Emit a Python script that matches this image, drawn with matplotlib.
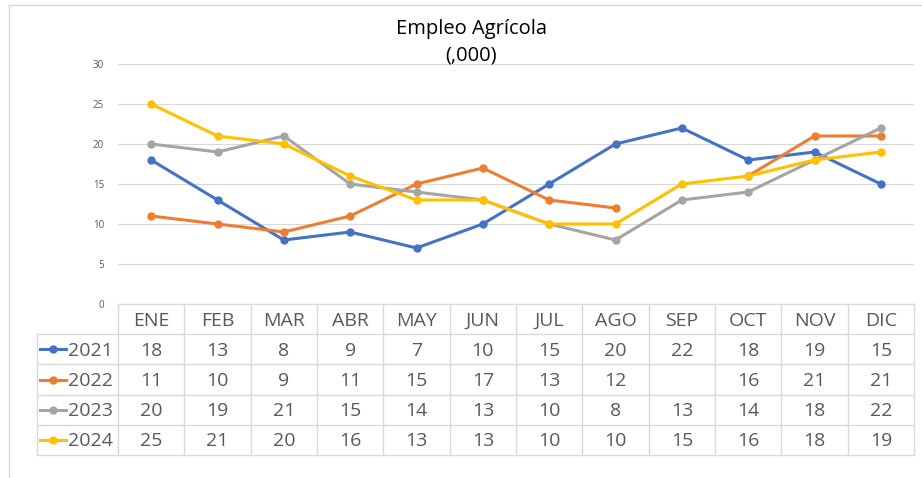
import numpy as np
import matplotlib
matplotlib.use("Agg")
import matplotlib.pyplot as plt
from matplotlib.lines import Line2D

months = ["ENE", "FEB", "MAR", "ABR", "MAY", "JUN", "JUL", "AGO", "SEP", "OCT", "NOV", "DIC"]
years = ["2021", "2022", "2023", "2024"]
v2021 = [18, 13, 8, 9, 7, 10, 15, 20, 22, 18, 19, 15]
v2022 = [11, 10, 9, 11, 15, 17, 13, 12, None, 16, 21, 21]
v2023 = [20, 19, 21, 15, 14, 13, 10, 8, 13, 14, 18, 22]
v2024 = [25, 21, 20, 16, 13, 13, 10, 10, 15, 16, 18, 19]
series = [v2021, v2022, v2023, v2024]
colors = ["#4472C4", "#ED7D31", "#A5A5A5", "#FFC000"]

FONT = "Open Sans"
W, H = 922, 478
grid_c = "#D9D9D9"
txt_c = "#595959"

fig = plt.figure(figsize=(W / 100, H / 100), dpi=100)
fig.patch.set_facecolor("white")

# outer chart frame (cropped on right/bottom)
fig.add_artist(Line2D([9 / W, 1], [1 - 5 / H, 1 - 5 / H], color=grid_c, lw=1))
fig.add_artist(Line2D([9 / W, 9 / W], [0, 1 - 5 / H], color=grid_c, lw=1))

# plot area: x 118..914 px, y 64..304 px
left, right, top, bot = 118, 914, 64, 304
ax = fig.add_axes([left / W, 1 - bot / H, (right - left) / W, (bot - top) / H])
x = np.arange(len(months))
for vals, c in zip(series, colors):
    y = np.array([np.nan if v is None else v for v in vals], dtype=float)
    ax.plot(x, y, color=c, lw=2.2, marker="o", ms=5, solid_capstyle="round")

ax.set_xlim(-0.5, 11.5)
ax.set_ylim(0, 30)
ax.set_yticks(range(0, 31, 5))
ax.set_xticks([])
ax.grid(axis="y", color=grid_c, lw=0.8)
ax.set_axisbelow(True)
for s in ax.spines.values():
    s.set_visible(False)
ax.tick_params(axis="y", length=0, pad=10, labelsize=7, labelcolor=txt_c)
for lab in ax.get_yticklabels():
    lab.set_fontfamily(FONT)

fig.text(471 / W, 1 - 29 / H, "Empleo Agrícola", ha="center", va="center",
         fontsize=14.5, family=FONT, color="black")
fig.text(471 / W, 1 - 56 / H, "(,000)", ha="center", va="center",
         fontsize=14.5, family=FONT, color="black")

# data table below the plot: x 37..914 px, y 304..455 px
tleft, tbot = 37, 455
tab = fig.add_axes([tleft / W, 1 - tbot / H, (right - tleft) / W, (tbot - bot) / H])
col_w = (right - left) / 12
x0 = -0.5 - (left - tleft) / col_w
tab.set_xlim(x0, 11.5)
tab.set_ylim(5, 0)
tab.axis("off")

lk = dict(color=grid_c, lw=1, clip_on=False)
# horizontal lines
tab.plot([-0.5, 11.5], [0, 0], **lk)
for r in range(1, 6):
    tab.plot([x0, 11.5], [r, r], **lk)
# vertical lines
for c in range(13):
    tab.plot([c - 0.5, c - 0.5], [0, 5], **lk)
tab.plot([x0, x0], [1, 5], **lk)

fs = 14
for i, m in enumerate(months):
    tab.text(i, 0.55, m, ha="center", va="center", fontsize=fs, family=FONT, color=txt_c)
for r, (yr, vals, c) in enumerate(zip(years, series, colors)):
    yc = r + 1.55
    kx0 = x0 + 3 / col_w
    kx1 = x0 + 29 / col_w
    tab.plot([kx0, kx1], [yc - 0.05, yc - 0.05], color=c, lw=2.2, clip_on=False)
    tab.plot([(kx0 + kx1) / 2], [yc - 0.05], "o", color=c, ms=5, clip_on=False)
    tab.text(x0 + 31 / col_w, yc, yr, ha="left", va="center", fontsize=fs,
             family=FONT, color=txt_c)
    for i, v in enumerate(vals):
        if v is not None:
            tab.text(i, yc, str(v), ha="center", va="center", fontsize=fs,
                     family=FONT, color=txt_c)

plt.savefig("out.png", dpi=100, facecolor="white")
plt.close()
